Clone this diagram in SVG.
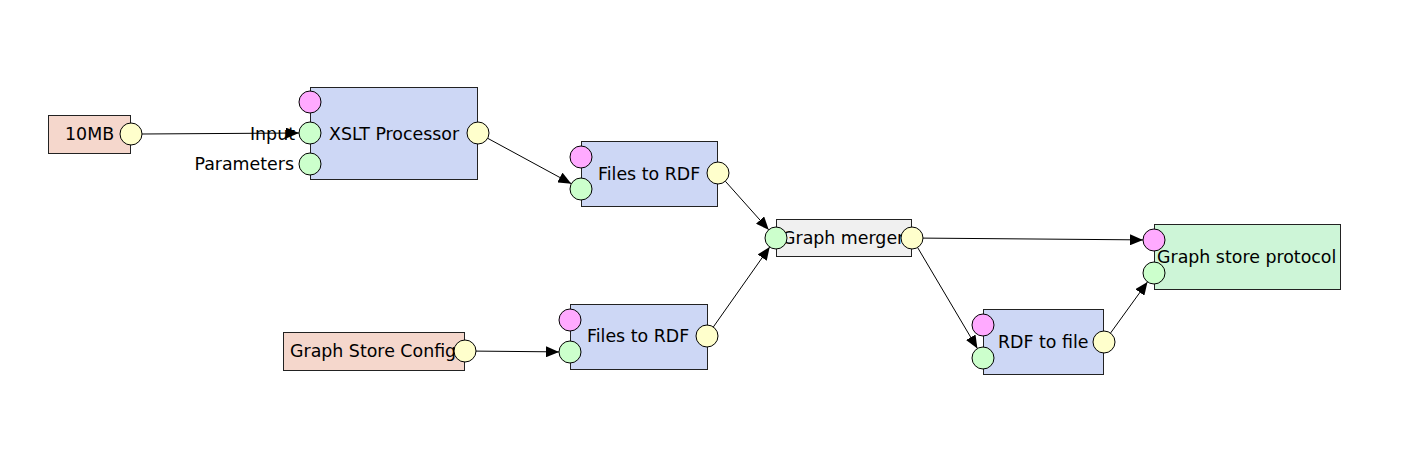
<svg xmlns="http://www.w3.org/2000/svg" width="1406" height="450" viewBox="0 0 1406 450">
<style>
text{font-family:"DejaVu Sans","Liberation Sans",sans-serif;font-size:17.4px;fill:#000}
.box{stroke:#222;stroke-width:1}
.src{fill:#f5d7cc}
.proc{fill:#cdd7f5}
.merge{fill:#f0f0f0}
.sink{fill:#cdf5d7}
.port{stroke:#000;stroke-width:1}
.pi{fill:#ffaaff}
.pg{fill:#ccffcc}
.py{fill:#ffffcc}
.conn{stroke:#000;stroke-width:1;fill:none;marker-end:url(#arr)}
</style>
<defs>
<marker id="arr" viewBox="0 0 13 11" refX="13" refY="5.5" markerWidth="13" markerHeight="11" markerUnits="userSpaceOnUse" orient="auto">
<path d="M0,0 L13,5.5 L0,11 Z" fill="#000"/>
</marker>
</defs>
<rect width="1406" height="450" fill="#fff"/>
<g id="connectors">
<line class="conn" x1="142" y1="134" x2="299" y2="133"/>
<line class="conn" x1="487.7" y1="138.3" x2="571.3" y2="183.7"/>
<line class="conn" x1="725.3" y1="181.2" x2="768.7" y2="229.8"/>
<line class="conn" x1="713.3" y1="327" x2="769.7" y2="247"/>
<line class="conn" x1="923" y1="238.1" x2="1143" y2="239.9"/>
<line class="conn" x1="917.6" y1="247.5" x2="977.4" y2="348.5"/>
<line class="conn" x1="1110.5" y1="333.1" x2="1147.5" y2="281.9"/>
<line class="conn" x1="476" y1="351.1" x2="559" y2="351.9"/>
</g>
<g id="n10mb">
<rect class="box src" x="48.5" y="115.5" width="82" height="38"/>
<text x="65" y="140">10MB</text>
<circle class="port py" cx="131" cy="134" r="11"/>
</g>
<g id="xslt">
<rect class="box proc" x="310.5" y="87.5" width="167" height="92"/>
<text x="329" y="140">XSLT Processor</text>
<circle class="port pi" cx="310" cy="102" r="11"/>
<circle class="port pg" cx="310" cy="133" r="11"/>
<circle class="port pg" cx="310" cy="164" r="11"/>
<circle class="port py" cx="478" cy="133" r="11"/>
<text x="295" y="140" text-anchor="end">Input</text>
<text x="294" y="170" text-anchor="end">Parameters</text>
</g>
<g id="files1">
<rect class="box proc" x="581.5" y="141.5" width="136" height="65"/>
<text x="598" y="180">Files to RDF</text>
<circle class="port pi" cx="581" cy="157" r="11"/>
<circle class="port pg" cx="581" cy="189" r="11"/>
<circle class="port py" cx="718" cy="173" r="11"/>
</g>
<g id="config">
<rect class="box src" x="283.5" y="332.5" width="181" height="38"/>
<text x="290" y="357">Graph Store Config</text>
<circle class="port py" cx="465" cy="351" r="11"/>
</g>
<g id="files2">
<rect class="box proc" x="570.5" y="304.5" width="137" height="65"/>
<text x="587" y="342">Files to RDF</text>
<circle class="port pi" cx="570" cy="320" r="11"/>
<circle class="port pg" cx="570" cy="352" r="11"/>
<circle class="port py" cx="707" cy="336" r="11"/>
</g>
<g id="merger">
<rect class="box merge" x="776.5" y="219.5" width="135" height="37"/>
<text x="782" y="244">Graph merger</text>
<circle class="port pg" cx="776" cy="238" r="11"/>
<circle class="port py" cx="912" cy="238" r="11"/>
</g>
<g id="rdf2file">
<rect class="box proc" x="983.5" y="309.5" width="120" height="65"/>
<text x="998" y="348">RDF to file</text>
<circle class="port pi" cx="983" cy="325" r="11"/>
<circle class="port pg" cx="983" cy="358" r="11"/>
<circle class="port py" cx="1104" cy="342" r="11"/>
</g>
<g id="gsp">
<rect class="box sink" x="1154.5" y="224.5" width="186" height="65"/>
<text x="1157" y="263">Graph store protocol</text>
<circle class="port pi" cx="1154" cy="240" r="11"/>
<circle class="port pg" cx="1154" cy="273" r="11"/>
</g>
</svg>
